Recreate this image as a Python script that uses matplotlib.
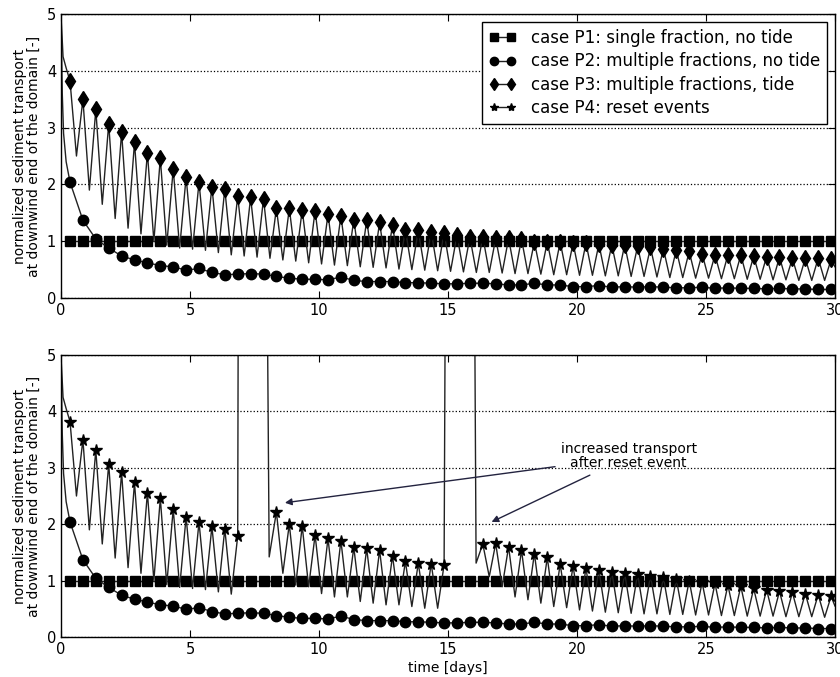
import matplotlib
matplotlib.use("Agg")
import matplotlib.pyplot as plt
import numpy as np

# tide peaks (one per half day), first one at t = 0.35 d
peak_t = np.arange(0.35, 30.0, 0.5)

# case P1: single fraction, no tide
p1_vals = [1.0] * 60

# case P2: multiple fractions, no tide
p2_lead_t = [0.0, 0.05, 0.1, 0.2]
p2_lead_v = [5.0, 3.6, 2.9, 2.4]
p2_vals = [2.04, 1.37, 1.04, 0.88, 0.74, 0.67, 0.62, 0.57, 0.55, 0.49,
           0.52, 0.45, 0.41, 0.42, 0.43, 0.42, 0.38, 0.35, 0.33, 0.33,
           0.32, 0.37, 0.31, 0.29, 0.29, 0.29, 0.27, 0.27, 0.26, 0.25,
           0.25, 0.26, 0.26, 0.25, 0.23, 0.23, 0.26, 0.23, 0.23, 0.2,
           0.2, 0.22, 0.19, 0.2, 0.19, 0.2, 0.19, 0.18, 0.18, 0.19,
           0.17, 0.18, 0.17, 0.17, 0.16, 0.17, 0.16, 0.16, 0.15, 0.15]

# case P3: multiple fractions, tide
p3_lead_t = [0.0, 0.08, 0.2]
p3_lead_v = [5.0, 4.25, 4.05]
p3_peaks = [3.82, 3.5, 3.32, 3.07, 2.92, 2.74, 2.56, 2.46, 2.27, 2.13,
            2.04, 1.96, 1.92, 1.79, 1.77, 1.75, 1.58, 1.58, 1.55, 1.54,
            1.48, 1.45, 1.38, 1.37, 1.33, 1.29, 1.2, 1.19, 1.17, 1.15,
            1.11, 1.07, 1.08, 1.05, 1.05, 1.04, 0.99, 0.99, 0.99, 0.97,
            0.97, 0.95, 0.94, 0.94, 0.91, 0.89, 0.87, 0.85, 0.82, 0.78,
            0.76, 0.76, 0.76, 0.74, 0.73, 0.72, 0.7, 0.7, 0.7, 0.68]
p3_troughs = [2.5, 1.9, 1.65, 1.4, 1.23, 1.13, 1.0, 0.93, 0.88, 0.86,
              0.84, 0.8, 0.76, 0.74, 0.72, 0.7, 0.67, 0.65, 0.62, 0.6,
              0.58, 0.57, 0.55, 0.54, 0.53, 0.51, 0.5, 0.49, 0.48, 0.47,
              0.46, 0.45, 0.45, 0.44, 0.43, 0.43, 0.42, 0.41, 0.41, 0.4,
              0.4, 0.39, 0.39, 0.38, 0.38, 0.37, 0.36, 0.36, 0.35, 0.35,
              0.34, 0.34, 0.33, 0.33, 0.32, 0.32, 0.31, 0.31, 0.31]
p3_end = (30.0, 0.55)

# case P4: reset events (spikes go far above the axis)
p4_peaks_a = p3_peaks[:14]
p4_troughs_a = p3_troughs[:13]
p4_spike1 = [(6.9, 12.0), (7.9, 12.0), (8.07, 1.42)]
p4_peaks_b = [2.22, 2.0, 1.97, 1.81, 1.75, 1.71, 1.59, 1.57, 1.54, 1.44,
              1.34, 1.31, 1.3, 1.28]
p4_troughs_b = [1.13, 0.92, 0.89, 0.77, 0.71, 0.71, 0.63, 0.6, 0.57, 0.57,
                0.54, 0.51, 0.51]
p4_spike2 = [(14.95, 12.0), (15.96, 12.0), (16.09, 1.31)]
p4_peaks_c = [1.65, 1.66, 1.6, 1.54, 1.48, 1.41, 1.29, 1.26, 1.22, 1.19,
              1.16, 1.13, 1.12, 1.09, 1.06, 1.03, 1.0, 0.97, 0.95, 0.92,
              0.9, 0.86, 0.84, 0.81, 0.79, 0.77, 0.75, 0.72]
p4_troughs_c = [1.07, 0.89, 0.71, 0.66, 0.6, 0.54, 0.52, 0.48, 0.46, 0.44,
                0.43, 0.42, 0.41, 0.41, 0.4, 0.4, 0.39, 0.39, 0.38, 0.38,
                0.37, 0.37, 0.37, 0.36, 0.36, 0.36, 0.35]

labels = ['case P1: single fraction, no tide',
          'case P2: multiple fractions, no tide',
          'case P3: multiple fractions, tide',
          'case P4: reset events']


def zigzag(pk_t, pk_v, tr_v):
    # alternate peak and trough values, remember where the peaks are
    t, v, idx = [], [], []
    for i in range(len(pk_v)):
        idx.append(len(t))
        t.append(pk_t[i])
        v.append(pk_v[i])
        if i < len(tr_v):
            t.append(pk_t[i] + 0.25)
            v.append(tr_v[i])
    return t, v, idx


def series(parts):
    t, v, mk = [], [], []
    for p in parts:
        if isinstance(p, tuple):
            off = len(t)
            t += p[0]
            v += p[1]
            mk += [off + i for i in p[2]]
        else:
            for a, b in p:
                t.append(a)
                v.append(b)
    return t, v, mk


p3_t, p3_v, p3_mk = series([list(zip(p3_lead_t, p3_lead_v)),
                            zigzag(peak_t, p3_peaks, p3_troughs),
                            [p3_end]])
p4_t, p4_v, p4_mk = series([list(zip(p3_lead_t, p3_lead_v)),
                            zigzag(peak_t[:14], p4_peaks_a, p4_troughs_a),
                            p4_spike1,
                            zigzag(peak_t[16:30], p4_peaks_b, p4_troughs_b),
                            p4_spike2,
                            zigzag(peak_t[32:], p4_peaks_c, p4_troughs_c),
                            [p3_end]])
p2_t = p2_lead_t + list(peak_t) + [30.0]
p2_v = p2_lead_v + p2_vals + [0.15]
p2_mk = list(range(len(p2_lead_t), len(p2_lead_t) + 60))

plt.rcParams['font.family'] = 'DejaVu Sans'

fig = plt.figure(figsize=(8.4, 6.77), dpi=100)
ax1 = fig.add_axes([0.0726, 0.5598, 0.9214, 0.4195])
ax2 = fig.add_axes([0.0726, 0.0591, 0.9214, 0.4165])

lw = 1.0
lc = '#222222'
for ax in (ax1, ax2):
    ax.plot(peak_t, p1_vals, '-', color=lc, marker='s', ms=7.3, mfc='k', mec='k',
            lw=lw, label=labels[0])
    ax.plot(p2_t, p2_v, '-', color=lc, marker='o', ms=7.5, mfc='k', mec='k',
            lw=lw, markevery=p2_mk, label=labels[1])

l3, = ax1.plot(p3_t, p3_v, '-', color=lc, marker='d', ms=8, mfc='k', mec='k',
               lw=lw, markevery=p3_mk, label=labels[2])
l4, = ax2.plot(p4_t, p4_v, '-', color=lc, marker='*', ms=8.5, mfc='k', mec='k',
               lw=lw, markevery=p4_mk, label=labels[3])

for ax in (ax1, ax2):
    ax.set_xlim(0, 30)
    ax.set_ylim(0, 5)
    ax.set_xticks([0, 5, 10, 15, 20, 25, 30])
    ax.set_yticks([0, 1, 2, 3, 4, 5])
    ax.yaxis.grid(True, linestyle=':', color='k', lw=0.9)
    ax.tick_params(direction='in', top=True, right=True, length=5, labelsize=10.5)
    for s in ax.spines.values():
        s.set_linewidth(1.0)
    ax.set_ylabel('normalized sediment transport\nat downwind end of the domain [-]',
                  fontsize=10, linespacing=1.0, labelpad=4)

ax2.set_xlabel('time [days]', fontsize=10, labelpad=3)

# legend in the top panel, includes the P4 handle from the bottom panel
h, l = ax1.get_legend_handles_labels()
leg = ax1.legend(h + [l4], l + [labels[3]], loc='upper right', numpoints=2,
                 fancybox=False, fontsize=12, handlelength=1.6,
                 handletextpad=0.9, borderaxespad=0.5, borderpad=0.4,
                 labelspacing=0.32, framealpha=1)
leg.get_frame().set_edgecolor('k')
for hd in leg.legend_handles:
    hd.set_markersize(6)

ax2.text(22.0, 3.21, 'increased transport\nafter reset event', ha='center',
         va='center', fontsize=10, linespacing=1.0)
arrow = dict(arrowstyle='-|>', color='#23233f', lw=1.0, shrinkA=0, shrinkB=0,
             mutation_scale=10)
ax2.annotate('', xy=(8.68, 2.38), xytext=(19.15, 3.02), arrowprops=arrow)
ax2.annotate('', xy=(16.69, 2.04), xytext=(20.5, 2.87), arrowprops=arrow)

fig.savefig('out.png', dpi=100)
